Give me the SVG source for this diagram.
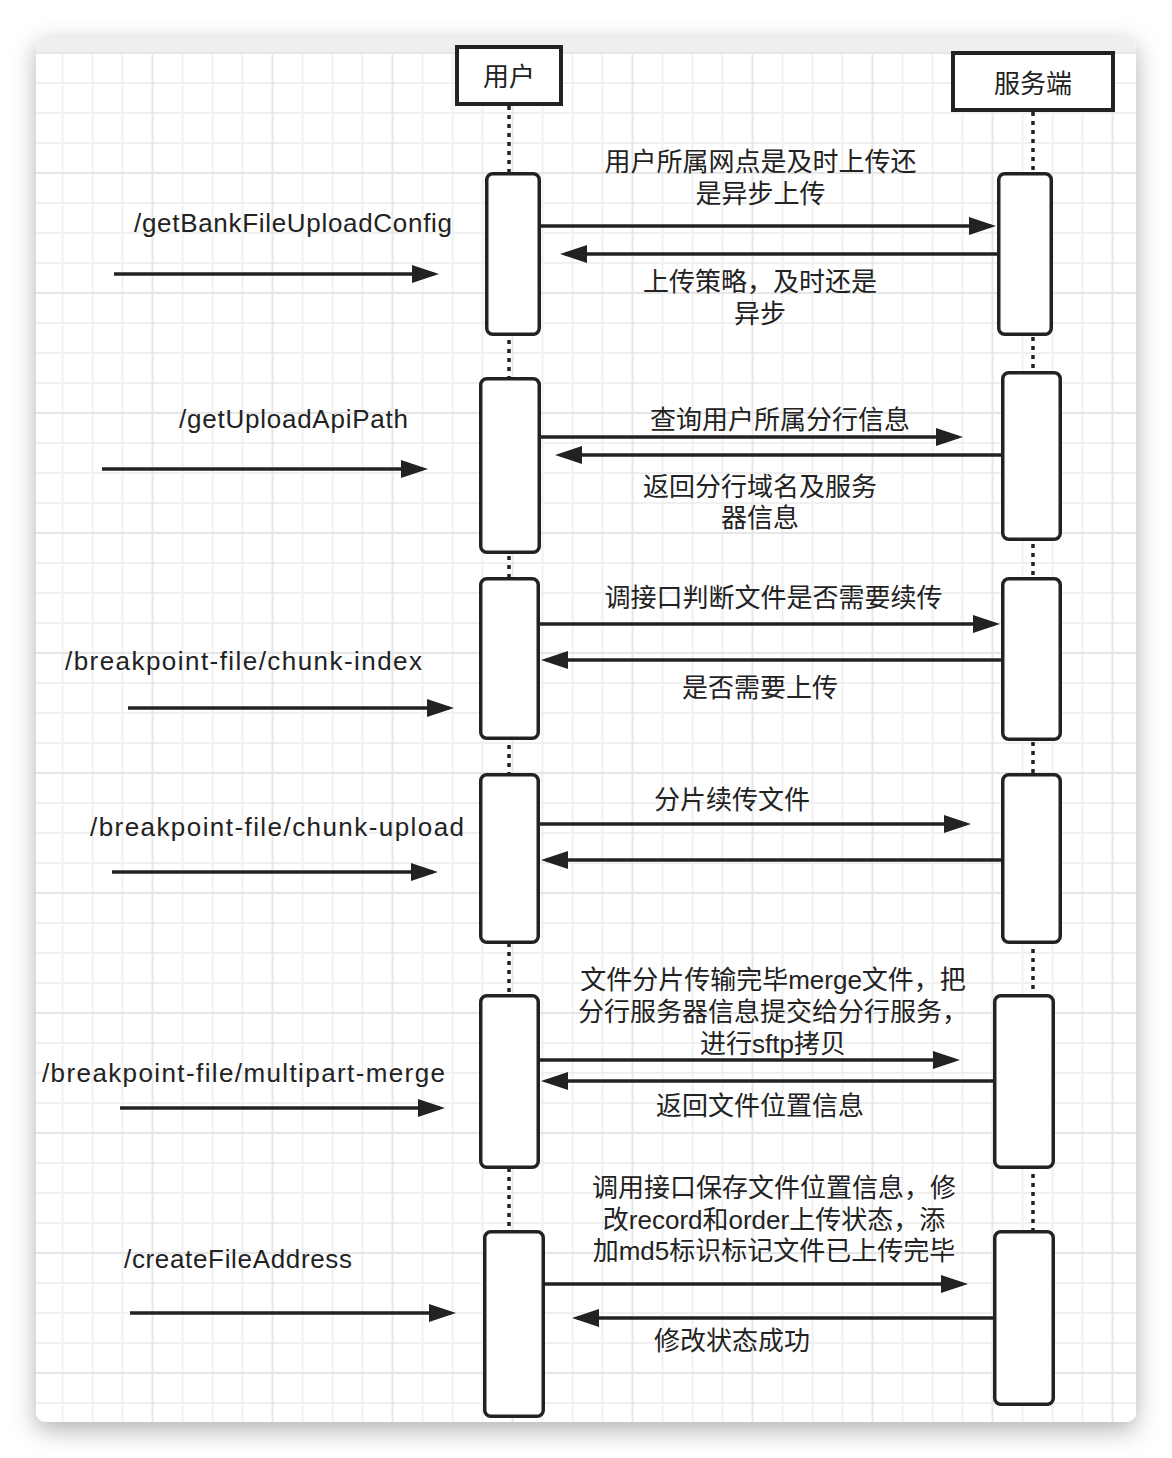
<svg xmlns="http://www.w3.org/2000/svg" width="1172" height="1458" viewBox="0 0 1172 1458">
<defs>
  <filter id="shadow" x="-10%" y="-10%" width="120%" height="120%">
    <feDropShadow dx="0" dy="8" stdDeviation="12" flood-color="#000" flood-opacity="0.3"/>
  </filter>
  <pattern id="grid" patternUnits="userSpaceOnUse" x="31.5" y="52" width="120" height="120">
    <path d="M31 0V120M61 0V120M91 0V120M0 31H120M0 61H120M0 91H120" stroke="#f0f0f0" stroke-width="2" fill="none"/>
    <path d="M1 0V120M0 1H120" stroke="#e6e6e6" stroke-width="2" fill="none"/>
  </pattern>
  <clipPath id="cardClip"><rect x="36" y="36" width="1100" height="1386" rx="10"/></clipPath>
  <marker id="arrow" markerUnits="userSpaceOnUse" markerWidth="28" markerHeight="18" refX="22" refY="9" orient="auto">
    <path d="M0,0 L27,9 L0,18 Z" fill="#222"/>
  </marker>
  <style>
    .hdr { fill:#fff; stroke:#222; stroke-width:4; }
    .act { fill:#fff; stroke:#222; stroke-width:3.5; }
    .life { stroke:#222; stroke-width:3.5; stroke-dasharray:4 5; fill:none; }
    .msg { stroke:#222; stroke-width:3.5; fill:none; marker-end:url(#arrow); }
    text { font-family:"Liberation Sans","Noto Sans CJK SC",sans-serif; font-size:26px; fill:#222; }
    .c { text-anchor:middle; }
  </style>
</defs>

<g id="background">
  <rect x="36" y="36" width="1100" height="1386" rx="10" fill="#fff" filter="url(#shadow)"/>
  <g clip-path="url(#cardClip)">
    <rect x="36" y="36" width="1100" height="1386" fill="#fff"/>
    <rect x="36" y="52" width="1100" height="1370" fill="url(#grid)"/>
    <rect x="36" y="36" width="1100" height="16" fill="#efefef"/>
  </g>
</g>

<g id="lifelines">
  <line class="life" x1="509" y1="106" x2="509" y2="1416"/>
  <line class="life" x1="1033" y1="112" x2="1033" y2="1404"/>
</g>

<g id="node-user-header">
  <rect class="hdr" x="457" y="47" width="104" height="57"/>
  <text class="c" x="509" y="86">用户</text>
</g>
<g id="node-server-header">
  <rect class="hdr" x="953" y="53" width="160" height="57"/>
  <text class="c" x="1033" y="93">服务端</text>
</g>

<g id="node-user-act1"><rect class="act" x="486.75" y="173.75" width="52.5" height="160.5" rx="6"/></g>
<g id="node-server-act1"><rect class="act" x="998.75" y="173.75" width="52.5" height="160.5" rx="6"/></g>
<g id="node-user-act2"><rect class="act" x="480.75" y="378.75" width="58.5" height="173.5" rx="6"/></g>
<g id="node-server-act2"><rect class="act" x="1002.75" y="372.75" width="57.5" height="166.5" rx="6"/></g>
<g id="node-user-act3"><rect class="act" x="480.75" y="578.75" width="57.5" height="159.5" rx="6"/></g>
<g id="node-server-act3"><rect class="act" x="1002.75" y="578.75" width="57.5" height="160.5" rx="6"/></g>
<g id="node-user-act4"><rect class="act" x="480.75" y="774.75" width="57.5" height="167.5" rx="6"/></g>
<g id="node-server-act4"><rect class="act" x="1002.75" y="774.75" width="57.5" height="167.5" rx="6"/></g>
<g id="node-user-act5"><rect class="act" x="480.75" y="995.75" width="57.5" height="171.5" rx="6"/></g>
<g id="node-server-act5"><rect class="act" x="994.75" y="995.75" width="58.5" height="171.5" rx="6"/></g>
<g id="node-user-act6"><rect class="act" x="484.75" y="1231.75" width="58.5" height="184.5" rx="6"/></g>
<g id="node-server-act6"><rect class="act" x="994.75" y="1231.75" width="58.5" height="172.5" rx="6"/></g>

<g id="connectors">
  <line class="msg" x1="541" y1="226" x2="991" y2="226"/>
  <line class="msg" x1="997" y1="254" x2="565" y2="254"/>
  <line class="msg" x1="541" y1="437" x2="958" y2="437"/>
  <line class="msg" x1="1001" y1="455" x2="560" y2="455"/>
  <line class="msg" x1="540" y1="624" x2="995" y2="624"/>
  <line class="msg" x1="1001" y1="660" x2="546" y2="660"/>
  <line class="msg" x1="540" y1="824" x2="966" y2="824"/>
  <line class="msg" x1="1001" y1="860" x2="546" y2="860"/>
  <line class="msg" x1="540" y1="1060" x2="955" y2="1060"/>
  <line class="msg" x1="993" y1="1081" x2="546" y2="1081"/>
  <line class="msg" x1="545" y1="1284" x2="963" y2="1284"/>
  <line class="msg" x1="993" y1="1318" x2="577" y2="1318"/>
  <line class="msg" x1="114" y1="274" x2="434" y2="274"/>
  <line class="msg" x1="102" y1="469" x2="423" y2="469"/>
  <line class="msg" x1="128" y1="708" x2="449" y2="708"/>
  <line class="msg" x1="112" y1="872" x2="433" y2="872"/>
  <line class="msg" x1="120" y1="1108" x2="440" y2="1108"/>
  <line class="msg" x1="130" y1="1313" x2="451" y2="1313"/>
</g>

<g id="labels">
  <text class="c" x="760.5" y="171">用户所属网点是及时上传还</text>
  <text class="c" x="760.5" y="203">是异步上传</text>
  <text class="c" x="760" y="291">上传策略，及时还是</text>
  <text class="c" x="760" y="323">异步</text>
  <text x="134" y="232" textLength="318" lengthAdjust="spacing">/getBankFileUploadConfig</text>

  <text class="c" x="780" y="428.5">查询用户所属分行信息</text>
  <text class="c" x="760" y="495.5">返回分行域名及服务</text>
  <text class="c" x="760" y="526.5">器信息</text>
  <text x="179" y="428" textLength="229" lengthAdjust="spacing">/getUploadApiPath</text>

  <text class="c" x="773.5" y="606.5">调接口判断文件是否需要续传</text>
  <text class="c" x="760" y="696.5">是否需要上传</text>
  <text x="65" y="670" textLength="357" lengthAdjust="spacing">/breakpoint-file/chunk-index</text>

  <text class="c" x="732" y="809">分片续传文件</text>
  <text x="90" y="836" textLength="374" lengthAdjust="spacing">/breakpoint-file/chunk-upload</text>

  <text class="c" x="773" y="989">文件分片传输完毕merge文件，把</text>
  <text class="c" x="773" y="1021">分行服务器信息提交给分行服务，</text>
  <text class="c" x="773" y="1053">进行sftp拷贝</text>
  <text class="c" x="760" y="1115">返回文件位置信息</text>
  <text x="42" y="1082" textLength="403" lengthAdjust="spacing">/breakpoint-file/multipart-merge</text>

  <text class="c" x="774" y="1197">调用接口保存文件位置信息，修</text>
  <text class="c" x="774" y="1229">改record和order上传状态，添</text>
  <text class="c" x="774" y="1260">加md5标识标记文件已上传完毕</text>
  <text class="c" x="732" y="1350">修改状态成功</text>
  <text x="124" y="1268" textLength="228" lengthAdjust="spacing">/createFileAddress</text>
</g>
</svg>
